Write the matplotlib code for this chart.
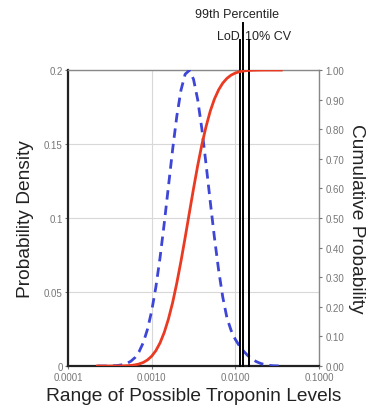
import numpy as np
import matplotlib
matplotlib.use("Agg")
from matplotlib import pyplot as plt
from matplotlib import transforms

plt.rcParams['font.family'] = ['Liberation Sans', 'DejaVu Sans']

# Troponin levels (log10) where the curves were read
log_x = [-3.65, -3.60, -3.55, -3.50, -3.45, -3.40, -3.35, -3.30, -3.25, -3.20,
         -3.15, -3.10, -3.05, -3.00, -2.95, -2.90, -2.85, -2.80, -2.75, -2.70,
         -2.65, -2.60, -2.55, -2.50, -2.45, -2.40, -2.35, -2.30, -2.25, -2.20,
         -2.15, -2.10, -2.05, -2.00, -1.95, -1.90, -1.85, -1.80, -1.75, -1.70,
         -1.65, -1.60, -1.55, -1.50, -1.45]
# probability density (left axis, blue dashed)
density = [0.0, 0.0, 0.0, 0.0001, 0.0002, 0.0004, 0.0009, 0.0017, 0.0032, 0.0057,
           0.0098, 0.0159, 0.0249, 0.0373, 0.0534, 0.0733, 0.0964, 0.1213, 0.1462, 0.1687,
           0.1864, 0.1972, 0.1998, 0.1938, 0.1800, 0.1602, 0.1364, 0.1112, 0.0869, 0.0649,
           0.0465, 0.0325, 0.0240, 0.0180, 0.0135, 0.0100, 0.0070, 0.0048, 0.0030, 0.0018,
           0.0010, 0.0005, 0.0002, 0.0001, 0.0]
# cumulative probability (right axis, red)
cumulative = [0.0, 0.0, 0.0, 0.0, 0.0001, 0.0002, 0.0005, 0.001, 0.002, 0.0038,
              0.007, 0.0122, 0.0206, 0.0334, 0.052, 0.0782, 0.1135, 0.1587, 0.214, 0.280,
              0.354, 0.434, 0.517, 0.599, 0.677, 0.748, 0.809, 0.861, 0.902, 0.933,
              0.956, 0.972, 0.983, 0.990, 0.9945, 0.997, 0.9985, 0.9992, 0.9996, 0.9998,
              1.0, 1.0, 1.0, 1.0, 1.0]

# reference lines
marker_names = ["LoD", "99th Percentile", "10% CV"]
marker_x = [0.01135, 0.0122, 0.0144]

left_ticks = [0, 0.05, 0.1, 0.15, 0.2]
left_labels = ["0", "0.05", "0.1", "0.15", "0.2"]
right_ticks = [i / 10 for i in range(11)]
x_ticks = [0.0001, 0.001, 0.01, 0.1]
x_labels = ["0.0001", "0.0010", "0.0100", "0.1000"]

xs = [10 ** v for v in log_x]

fig = plt.figure(figsize=(3.7, 4.06), dpi=100)
ax = fig.add_axes([0.184, 0.096, 0.678, 0.729])
ax.set_xscale('log')
ax.set_xlim(0.0001, 0.1)
ax.set_ylim(0, 0.2)

gray = '#777777'
ax.grid(True, color='#d8d8d8', lw=0.8)
ax.set_axisbelow(True)
ax.set_xticks(x_ticks)
ax.set_xticklabels(x_labels)
ax.xaxis.set_minor_locator(matplotlib.ticker.NullLocator())
ax.set_yticks(left_ticks)
ax.set_yticklabels(left_labels)
ax.tick_params(axis='both', labelsize=7, colors=gray, length=2, pad=2)

ax.spines['left'].set_color('#222222')
ax.spines['left'].set_linewidth(1.6)
ax.spines['bottom'].set_color('#222222')
ax.spines['bottom'].set_linewidth(1.6)
for s in ['top', 'right']:
    ax.spines[s].set_color('#888888')
    ax.spines[s].set_linewidth(1.0)

ax2 = ax.twinx()
ax2.set_ylim(0, 1.0)
ax2.set_yticks(right_ticks)
ax2.set_yticklabels(["%.2f" % t for t in right_ticks])
ax2.tick_params(axis='y', labelsize=7, colors=gray, length=2.5, pad=2)
for s in ax2.spines.values():
    s.set_visible(False)

ax.plot(xs, density, color='#3d46d6', lw=2, dashes=(3.4, 2.2), zorder=3)
ax2.plot(xs, cumulative, color='#ea3a22', lw=2, zorder=3)

tops = [1.10, 1.16, 1.10]
for mx, t in zip(marker_x, tops):
    ax.axvline(mx, ymin=0, ymax=t, color='black', lw=1.4, clip_on=False, zorder=4)

trans = transforms.blended_transform_factory(ax.transData, ax.transAxes)
ax.text(0.0104, 1.19, "99th Percentile", transform=trans, ha='center', va='center',
        fontsize=9, color='#222222')
ax.text(0.0113, 1.115, "LoD", transform=trans, ha='right', va='center',
        fontsize=9, color='#222222')
ax.text(0.0131, 1.115, "10% CV", transform=trans, ha='left', va='center',
        fontsize=9, color='#222222')

ax.set_xlabel("Range of Possible Troponin Levels", fontsize=13.8, color='#222222', labelpad=4)
ax.set_ylabel("Probability Density", fontsize=13.8, color='#222222', labelpad=7)
ax2.set_ylabel("Cumulative Probability", fontsize=13.8, color='#222222', rotation=-90,
               labelpad=15)

fig.savefig("out.png", dpi=100)
